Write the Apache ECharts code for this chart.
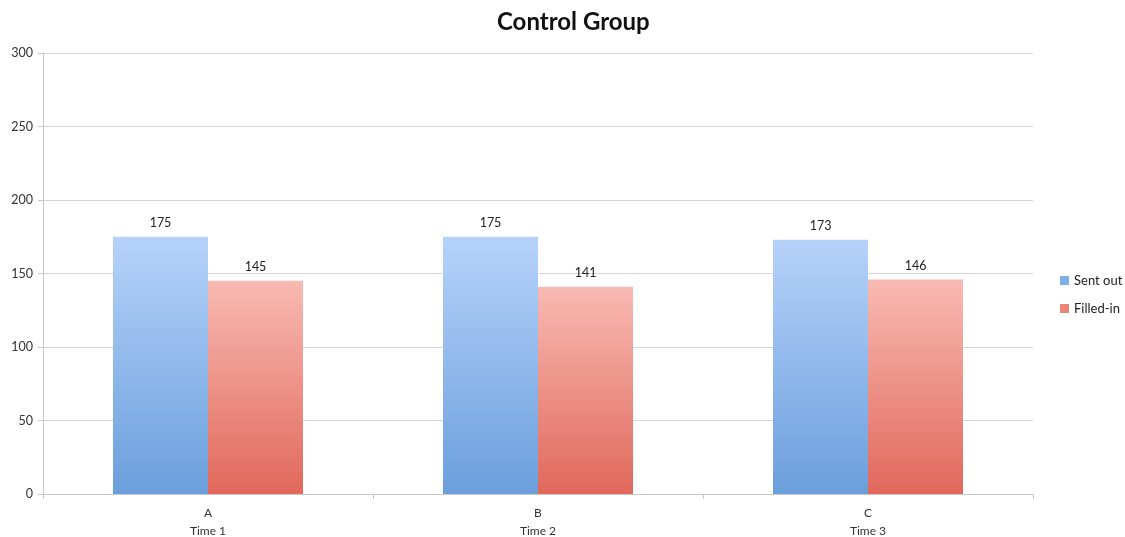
<!DOCTYPE html>
<html><head><meta charset="utf-8">
<script src="https://cdn.jsdelivr.net/npm/echarts@6/dist/echarts.min.js"></script>
<style>html,body{margin:0;padding:0;background:#fff;overflow:hidden}#c{width:1125px;height:537px}</style>
</head><body><div id="c"></div>
<script>
const categories = ['A\nTime 1', 'B\nTime 2', 'C\nTime 3'];
const sentOut = [175, 175, 173];
const filledIn = [145, 141, 146];
const yTicks = [0, 50, 100, 150, 200, 250, 300];

const chart = echarts.init(document.getElementById('c'));
const grad = (top, bottom) => new echarts.graphic.LinearGradient(0, 0, 0, 1, [{offset: 0, color: top}, {offset: 1, color: bottom}]);
const font = 'Lato, "Open Sans", sans-serif';
chart.setOption({
  animation: false,
  textStyle: {fontFamily: font},
  title: {text: 'Control Group', left: 492, top: 5, textStyle: {fontSize: 24, fontWeight: 'bold', color: '#111', fontFamily: font}},
  grid: {left: 43, right: 92, top: 53, bottom: 43, containLabel: false, outerBoundsMode: 'none'},
  legend: {
    orient: 'vertical', left: 1055, top: 269, itemWidth: 9, itemHeight: 9, itemGap: 15, icon: 'rect',
    textStyle: {fontSize: 13, color: '#222', fontFamily: font},
    data: [{name: 'Sent out', itemStyle: {color: '#7fb0ea'}}, {name: 'Filled-in', itemStyle: {color: '#ea8579'}}]
  },
  xAxis: {
    type: 'category', data: categories,
    axisLine: {lineStyle: {color: '#c8c8c8', width: 1}},
    axisTick: {show: true, length: 5, lineStyle: {color: '#c8c8c8'}},
    axisLabel: {fontSize: 12, color: '#333', lineHeight: 18, margin: 10}
  },
  yAxis: {
    type: 'value', min: 0, max: 300, interval: 50,
    axisLine: {show: true, lineStyle: {color: '#c8c8c8'}},
    axisTick: {show: true, length: 5, lineStyle: {color: '#c8c8c8'}},
    axisLabel: {fontSize: 12.5, color: '#333', margin: 10, formatter: v => yTicks.includes(v) ? String(v) : ''},
    splitLine: {lineStyle: {color: '#d6d6d6', width: 1}}
  },
  series: [
    {name: 'Sent out', type: 'bar', data: sentOut, barWidth: 95, barGap: '0%',
     itemStyle: {color: grad('#b6d2fa', '#6a9fdc')},
     label: {show: true, position: 'top', distance: 7, fontSize: 12.5, color: '#222'}},
    {name: 'Filled-in', type: 'bar', data: filledIn, barWidth: 95,
     itemStyle: {color: grad('#f8bab3', '#e1685b')},
     label: {show: true, position: 'top', distance: 7, fontSize: 12.5, color: '#222'}}
  ]
});
</script></body></html>
